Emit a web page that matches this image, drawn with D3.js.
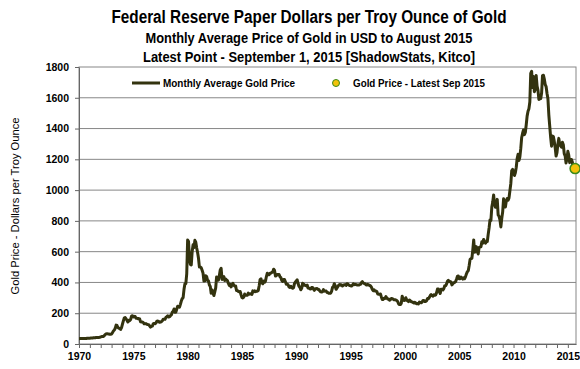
<!DOCTYPE html>
<html>
<head>
<meta charset="utf-8">
<script src="https://cdn.jsdelivr.net/npm/d3@7"></script>
<style>
  body { margin: 0; background: #fff; }
  text { font-family: "Liberation Sans", Arial, sans-serif; }
</style>
</head>
<body>
<div id="chart"></div>
<script>
// Monthly average gold price (USD/oz), Jan 1970 .. Aug 2015
const startYear = 1970;
const prices1970s = [
  34.9, 35.0, 35.1, 35.6, 35.5, 35.4, 35.3, 35.4, 36.2, 37.5, 37.4, 37.4,
  37.9, 38.7, 38.9, 39.0, 40.5, 40.1, 41.0, 42.7, 42.0, 42.5, 42.9, 43.5,
  45.7, 48.3, 48.3, 49.0, 54.6, 62.1, 65.7, 67.0, 65.5, 64.9, 62.9, 63.9,
  65.1, 74.2, 84.4, 90.5, 102.0, 122.5, 120.2, 106.8, 103.0, 100.1, 94.8, 106.7,
  129.2, 150.2, 168.4, 172.2, 163.3, 154.1, 143.0, 154.6, 151.8, 158.8, 181.7, 183.9,
  176.3, 179.6, 178.2, 167.8, 167.4, 164.4, 165.2, 163.1, 144.1, 142.8, 142.8, 139.3,
  131.6, 130.9, 132.6, 128.3, 126.6, 125.7, 117.6, 109.5, 114.1, 116.1, 130.5, 133.5,
  132.3, 136.3, 148.4, 149.1, 146.6, 140.8, 143.4, 145.0, 150.2, 161.4, 160.5, 160.5,
  173.2, 178.2, 183.7, 175.3, 176.3, 183.7, 188.7, 206.0, 212.6, 227.4, 206.1, 207.8,
  227.3, 245.7, 242.1, 239.2, 257.6, 279.1, 294.7, 300.8, 355.2, 391.7, 392.5, 455.1
];
const prices1980s = [
  675.3, 665.3, 553.6, 517.4, 513.8, 600.7, 644.3, 627.0, 673.6, 661.2, 623.5, 594.9,
  557.4, 500.1, 499.8, 495.8, 479.7, 460.8, 409.4, 410.2, 443.6, 437.8, 413.4, 410.1,
  384.2, 374.2, 330.1, 350.5, 333.3, 314.9, 339.1, 364.4, 435.7, 422.8, 415.2, 444.3,
  481.3, 491.4, 419.6, 432.9, 437.5, 413.0, 422.7, 416.1, 411.8, 393.6, 381.3, 388.0,
  370.9, 386.1, 394.6, 381.4, 377.5, 377.6, 347.3, 347.6, 341.1, 340.1, 341.2, 320.2,
  302.8, 299.2, 304.2, 324.6, 316.5, 317.0, 317.3, 330.3, 323.3, 326.0, 325.3, 322.4,
  345.4, 338.9, 345.7, 340.4, 342.6, 342.6, 348.6, 376.7, 418.0, 423.3, 398.0, 391.3,
  408.3, 401.1, 408.9, 438.4, 460.2, 449.6, 450.5, 460.4, 460.2, 465.4, 467.6, 486.3,
  477.8, 442.1, 443.6, 451.6, 451.5, 452.0, 437.0, 431.3, 412.3, 406.3, 419.8, 419.3,
  404.0, 387.8, 390.2, 384.3, 371.1, 367.6, 375.0, 365.4, 362.0, 366.9, 392.3, 401.9
];
const prices1990s = [
  410.1, 416.8, 393.1, 374.2, 369.0, 352.3, 362.5, 395.0, 389.0, 381.0, 381.9, 377.8,
  383.6, 363.8, 363.3, 358.4, 356.8, 366.7, 367.7, 356.5, 348.8, 358.7, 359.6, 361.1,
  354.5, 354.0, 344.3, 338.6, 337.2, 340.8, 353.0, 343.0, 345.2, 344.4, 335.0, 334.7,
  329.0, 329.3, 330.1, 342.1, 367.2, 371.9, 392.0, 378.9, 355.3, 364.2, 373.8, 383.3,
  386.9, 381.9, 384.1, 377.3, 381.4, 385.6, 385.5, 380.4, 391.6, 389.8, 384.4, 379.3,
  378.6, 376.5, 381.9, 391.0, 385.3, 387.6, 386.2, 383.8, 383.0, 383.1, 386.0, 387.4,
  399.5, 404.8, 396.2, 392.8, 391.9, 385.3, 383.5, 387.5, 383.1, 381.1, 377.9, 369.3,
  355.0, 346.6, 351.8, 344.5, 343.8, 340.8, 324.1, 323.9, 322.8, 324.9, 306.0, 288.7,
  289.3, 297.5, 295.9, 308.4, 299.1, 292.3, 292.9, 284.1, 289.0, 296.1, 294.1, 291.6,
  287.1, 287.3, 286.0, 282.6, 276.4, 261.3, 256.1, 256.7, 264.7, 310.7, 293.2, 283.1
];
const prices2000s = [
  284.6, 300.9, 286.4, 280.0, 275.3, 285.7, 281.6, 274.5, 273.7, 270.0, 266.0, 271.5,
  265.5, 261.9, 263.0, 260.5, 272.4, 270.2, 267.5, 272.4, 283.4, 283.1, 276.2, 275.9,
  281.7, 295.5, 294.0, 302.7, 314.5, 321.2, 313.3, 310.3, 319.2, 316.6, 319.2, 333.4,
  356.9, 358.0, 340.6, 328.2, 355.7, 356.4, 351.0, 359.8, 378.9, 378.9, 389.9, 407.6,
  414.0, 405.3, 406.7, 403.0, 383.8, 392.4, 398.1, 400.5, 405.3, 420.5, 439.4, 442.1,
  424.0, 423.4, 434.2, 429.2, 421.9, 430.7, 424.5, 437.9, 456.1, 469.9, 476.7, 509.8,
  549.9, 555.0, 557.1, 610.6, 676.5, 596.2, 633.7, 632.6, 598.2, 585.8, 627.8, 629.8,
  631.2, 664.8, 654.9, 679.4, 666.9, 655.5, 665.3, 665.4, 712.7, 754.6, 806.3, 803.2,
  889.6, 922.3, 968.4, 909.7, 888.7, 889.5, 939.8, 839.0, 829.9, 806.6, 760.9, 816.1,
  858.7, 943.2, 924.3, 890.2, 928.6, 945.7, 934.2, 949.4, 996.6, 1043.2, 1127.0, 1134.7
];
const prices2010s = [
  1117.9, 1095.4, 1113.3, 1148.7, 1205.4, 1232.9, 1192.9, 1215.8, 1270.9, 1342.0, 1369.9, 1390.6,
  1360.5, 1374.7, 1423.3, 1480.9, 1512.6, 1529.4, 1572.8, 1759.0, 1772.1, 1666.4, 1739.0, 1639.0,
  1654.1, 1744.8, 1675.9, 1649.2, 1589.0, 1598.8, 1594.3, 1630.3, 1744.5, 1746.6, 1721.6, 1684.8,
  1671.9, 1627.6, 1593.1, 1487.9, 1414.0, 1343.4, 1285.5, 1351.7, 1348.6, 1316.6, 1275.8, 1221.5,
  1244.3, 1300.0, 1336.1, 1299.0, 1287.5, 1279.1, 1310.6, 1295.1, 1236.6, 1222.5, 1176.3, 1202.3,
  1251.8, 1227.1, 1178.6, 1198.9, 1198.6, 1181.5, 1128.3, 1117.9
];
// Latest point, Sep 1 2015
const latestPoint = { year: 2015 + 8 / 12, value: 1140 };

const yTicks = [0, 200, 400, 600, 800, 1000, 1200, 1400, 1600, 1800];
const xYears = d3.range(1970, 2016);

const title = "Federal Reserve Paper Dollars per Troy Ounce of Gold";
const subtitle1 = "Monthly Average Price of Gold in USD to August 2015";
const subtitle2 = "Latest Point - September 1, 2015 [ShadowStats, Kitco]";
const yLabel = "Gold Price - Dollars per Troy Ounce";
const legendLine = "Monthly Average Gold Price";
const legendDot = "Gold Price - Latest Sep 2015";

const width = 580, height = 369;
const margin = { top: 67, right: 4, bottom: 25, left: 79 };

const svg = d3.select("#chart").append("svg")
    .attr("width", width)
    .attr("height", height);

const monthly = [].concat(prices1970s, prices1980s, prices1990s, prices2000s, prices2010s)
    .map((v, i) => ({ year: startYear + i / 12, value: v }));

const x = d3.scaleLinear()
    .domain([1970, 2015.75])
    .range([margin.left, width - margin.right]);

const y = d3.scaleLinear()
    .domain([0, 1800])
    .range([height - margin.bottom, margin.top]);

const gridColor = "#878787";

// gridlines
svg.append("g")
    .selectAll("line")
    .data(yTicks.filter(d => d > 0 && d < 1800))
    .enter().append("line")
    .attr("x1", margin.left).attr("x2", width - margin.right)
    .attr("y1", d => y(d)).attr("y2", d => y(d))
    .attr("stroke", gridColor)
    .attr("stroke-width", 1);

// plot border
svg.append("rect")
    .attr("x", margin.left).attr("y", margin.top)
    .attr("width", width - margin.right - margin.left)
    .attr("height", height - margin.bottom - margin.top)
    .attr("fill", "none")
    .attr("stroke", gridColor);

// axes
const yAxis = svg.append("g")
    .attr("transform", `translate(${margin.left},0)`)
    .call(d3.axisLeft(y).tickValues(yTicks).tickSize(4).tickSizeOuter(0).tickPadding(6)
        .tickFormat(d3.format("d")));

const xAxis = svg.append("g")
    .attr("transform", `translate(0,${height - margin.bottom})`)
    .call(d3.axisBottom(x).tickValues(xYears).tickSize(4).tickSizeOuter(0).tickPadding(5)
        .tickFormat(d => d % 5 === 0 ? d : ""));

[yAxis, xAxis].forEach(g => {
    g.select(".domain").attr("stroke", "#666");
    g.selectAll(".tick line").attr("stroke", "#666");
    g.selectAll("text")
        .attr("fill", "#000")
        .style("font-size", "10.5px")
        .style("font-weight", "bold")
        .style("font-family", "'Liberation Sans', Arial, sans-serif");
});

// price line
const line = d3.line()
    .x(d => x(d.year))
    .y(d => y(d.value));

svg.append("path")
    .datum(monthly)
    .attr("d", line)
    .attr("fill", "none")
    .attr("stroke", "#33330f")
    .attr("stroke-width", 3)
    .attr("stroke-linejoin", "round");

// latest point
svg.append("circle")
    .attr("cx", x(latestPoint.year))
    .attr("cy", y(latestPoint.value))
    .attr("r", 5)
    .attr("fill", "#f2c20a")
    .attr("stroke", "#3b8a1c")
    .attr("stroke-width", 1.5);

// titles
const titles = [
    { text: title, y: 23, size: 18, len: 395 },
    { text: subtitle1, y: 43, size: 14.5, len: 327 },
    { text: subtitle2, y: 62, size: 14.5, len: 332 }
];
svg.selectAll(".title")
    .data(titles)
    .enter().append("text")
    .attr("class", "title")
    .attr("x", 309)
    .attr("y", d => d.y)
    .attr("text-anchor", "middle")
    .attr("textLength", d => d.len)
    .attr("lengthAdjust", "spacingAndGlyphs")
    .style("font-size", d => d.size + "px")
    .style("font-weight", "bold")
    .text(d => d.text);

// y axis label
svg.append("text")
    .attr("transform", "rotate(-90)")
    .attr("x", -206)
    .attr("y", 19)
    .attr("text-anchor", "middle")
    .attr("textLength", 177)
    .attr("lengthAdjust", "spacingAndGlyphs")
    .style("font-size", "11.5px")
    .text(yLabel);

// legend
const legendY = 83;
svg.append("line")
    .attr("x1", 132).attr("x2", 160)
    .attr("y1", legendY).attr("y2", legendY)
    .attr("stroke", "#33330f")
    .attr("stroke-width", 3);
svg.append("text")
    .attr("x", 163).attr("y", legendY + 3.5)
    .attr("textLength", 132)
    .attr("lengthAdjust", "spacingAndGlyphs")
    .style("font-size", "10px")
    .style("font-weight", "bold")
    .text(legendLine);
svg.append("circle")
    .attr("cx", 336).attr("cy", legendY)
    .attr("r", 3.5)
    .attr("fill", "#f2c20a")
    .attr("stroke", "#3b8a1c")
    .attr("stroke-width", 1);
svg.append("text")
    .attr("x", 353).attr("y", legendY + 3.5)
    .attr("textLength", 132)
    .attr("lengthAdjust", "spacingAndGlyphs")
    .style("font-size", "10px")
    .style("font-weight", "bold")
    .text(legendDot);
</script>
</body>
</html>
